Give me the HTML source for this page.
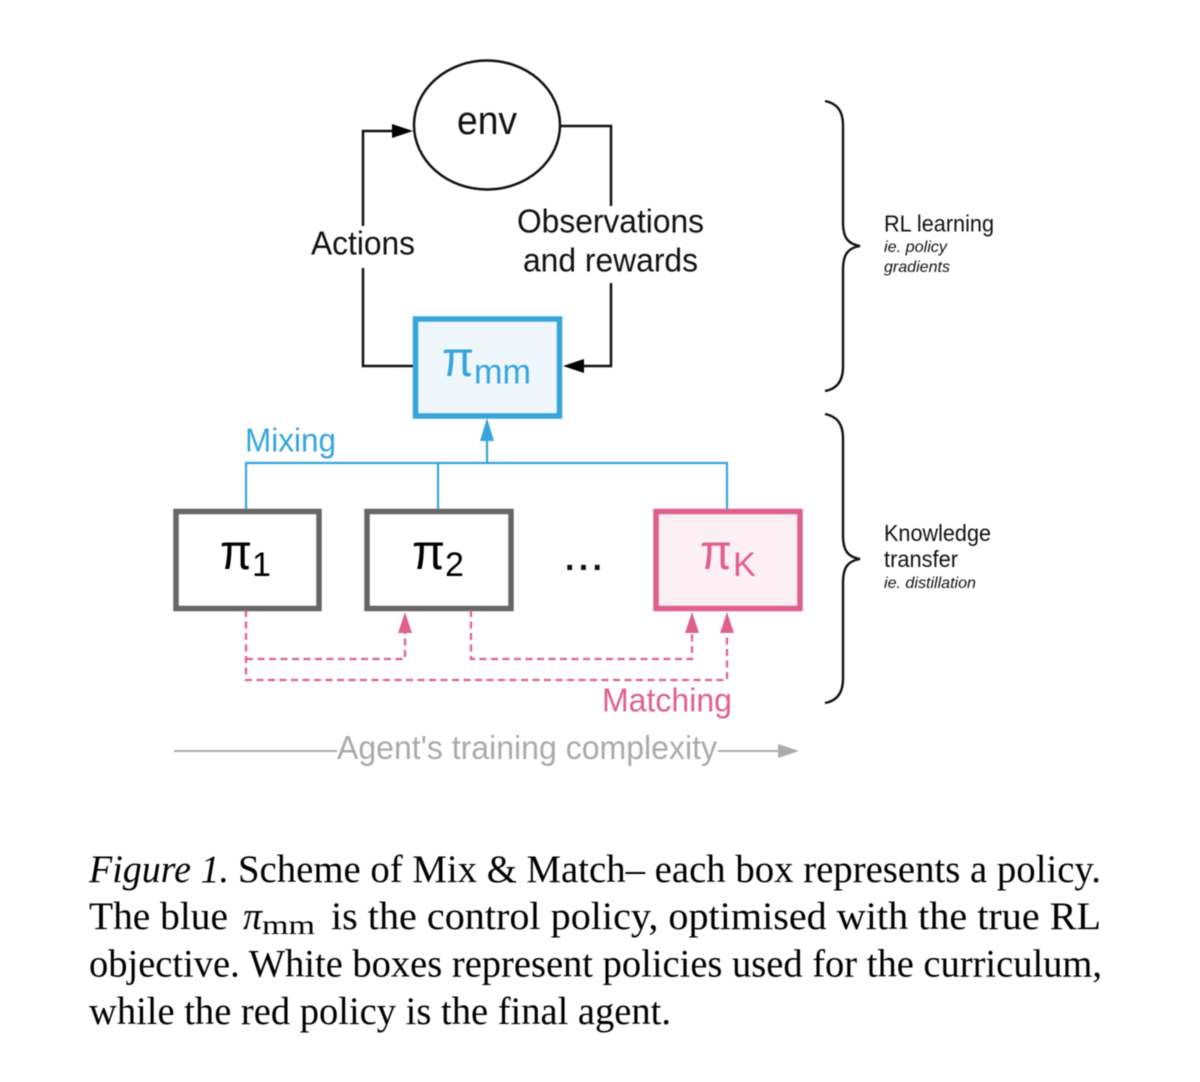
<!DOCTYPE html>
<html><head><meta charset="utf-8"><style>
html,body{margin:0;padding:0;background:#fff}
svg{display:block;filter:blur(0.4px)}
.s{font-family:"Liberation Sans",sans-serif}
.c{font-family:"Liberation Serif",serif;font-size:39.5px;fill:#000}
</style></head><body>
<svg width="1200" height="1082" viewBox="0 0 1200 1082" xmlns="http://www.w3.org/2000/svg">
<rect width="1200" height="1082" fill="#fff"/>
<g fill="none" stroke="#111" stroke-width="2.5">
<ellipse cx="487" cy="125" rx="73" ry="64.5"/>
<path d="M415 366H363V268M363 226V131H394"/>
<path d="M560 126H611V206M611 283V366H582"/>
</g>
<path d="M413 131L392 124V138Z M563 366L584 359V373Z" fill="#000"/>
<rect x="415.500" y="319" width="144" height="97" fill="#eff7fc" stroke="#36a5dc" stroke-width="5.500"/>
<g fill="none" stroke-width="5.500">
<rect x="176" y="511.500" width="143" height="97" fill="#fff" stroke="#666"/>
<rect x="367" y="511.500" width="144" height="97" fill="#fff" stroke="#666"/>
<rect x="656" y="511.500" width="144" height="97" fill="#fdf0f5" stroke="#e0608c"/>
</g>
<g fill="none" stroke="#36a5dc" stroke-width="2.200">
<path d="M246 509V463H727V509M438 463V509M487 463V438"/>
</g>
<path d="M487 418L480 441H494Z" fill="#36a5dc"/>
<g fill="none" stroke="#e0608c" stroke-width="2.300" stroke-dasharray="7 4.500">
<path d="M246 610V680H727V632"/>
<path d="M246 659H405V632"/>
<path d="M471 610V659H692V632"/>
</g>
<path d="M405 612L398 633H412Z M692 612L685 633H699Z M727 612L720 633H734Z" fill="#e0608c"/>
<path d="M174 751H337M718 751H780" stroke="#aaa" stroke-width="2" fill="none"/>
<path d="M799 751L778 744V758Z" fill="#aaa"/>
<g fill="none" stroke="#111" stroke-width="2.400">
<path d="M825 101C836 103 843 110 843 125V222C843 238 848 244 860 246C848 248 843 254 843 270V367C843 382 836 389 825 391"/>
<path d="M825 414C836 416 843 423 843 438V535C843 551 848 557 860 559C848 561 843 567 843 583V679C843 694 836 701 825 703"/>
</g>
<g class="s" fill="#111">
<text x="457" y="134" font-size="40" textLength="60" lengthAdjust="spacingAndGlyphs">env</text>
<text x="311" y="254.500" font-size="33" textLength="104" lengthAdjust="spacingAndGlyphs">Actions</text>
<text x="517" y="232.500" font-size="33" textLength="187" lengthAdjust="spacingAndGlyphs">Observations</text>
<text x="523" y="271.500" font-size="33" textLength="175" lengthAdjust="spacingAndGlyphs">and rewards</text>
<text x="884" y="231.500" font-size="23" textLength="110" lengthAdjust="spacingAndGlyphs">RL learning</text>
<text x="884" y="252" font-size="16" font-style="italic" textLength="63" lengthAdjust="spacingAndGlyphs">ie. policy</text>
<text x="884" y="272" font-size="16" font-style="italic" textLength="66" lengthAdjust="spacingAndGlyphs">gradients</text>
<text x="884" y="541" font-size="23" textLength="107" lengthAdjust="spacingAndGlyphs">Knowledge</text>
<text x="884" y="567" font-size="23" textLength="74" lengthAdjust="spacingAndGlyphs">transfer</text>
<text x="884" y="588" font-size="16" font-style="italic" textLength="92" lengthAdjust="spacingAndGlyphs">ie. distillation</text>
<text x="565" y="570" font-size="34" font-weight="bold" textLength="37" lengthAdjust="spacing">...</text>
</g>
<g class="s">
<text x="245" y="451.500" font-size="33" fill="#36a5dc" textLength="91" lengthAdjust="spacingAndGlyphs">Mixing</text>
<text x="602" y="711.500" font-size="33" fill="#e0608c" textLength="130" lengthAdjust="spacingAndGlyphs">Matching</text>
<text x="337" y="759" font-size="33" fill="#aaa" textLength="380" lengthAdjust="spacingAndGlyphs">Agent's training complexity</text>
<text x="442" y="376" font-size="50" fill="#36a5dc" textLength="32" lengthAdjust="spacingAndGlyphs">π</text>
<text x="474" y="383.500" font-size="35" fill="#36a5dc" textLength="57" lengthAdjust="spacingAndGlyphs">mm</text>
<text x="220" y="569" font-size="50" fill="#000" textLength="32" lengthAdjust="spacingAndGlyphs">π</text>
<text x="252" y="576" font-size="34" fill="#000">1</text>
<text x="412" y="569" font-size="50" fill="#000" textLength="33" lengthAdjust="spacingAndGlyphs">π</text>
<text x="445" y="576" font-size="34" fill="#000">2</text>
<text x="700" y="569" font-size="50" fill="#e0608c" textLength="32" lengthAdjust="spacingAndGlyphs">π</text>
<text x="733" y="576" font-size="34" fill="#e0608c" textLength="23" lengthAdjust="spacingAndGlyphs">K</text>
</g>
<text class="c" x="89" y="882" font-style="italic" textLength="140" lengthAdjust="spacingAndGlyphs">Figure 1.</text>
<text class="c" x="238" y="882" textLength="863" lengthAdjust="spacingAndGlyphs">Scheme of Mix &amp; Match– each box represents a policy.</text>
<text class="c" x="89" y="929" textLength="139" lengthAdjust="spacingAndGlyphs">The blue</text>
<text class="c" x="243" y="929" font-style="italic" textLength="19" lengthAdjust="spacingAndGlyphs">π</text>
<text class="c" x="262" y="934" textLength="53" lengthAdjust="spacingAndGlyphs" style="font-size:27px">mm</text>
<text class="c" x="331" y="929" textLength="770" lengthAdjust="spacingAndGlyphs">is the control policy, optimised with the true RL</text>
<text class="c" x="89" y="976.500" textLength="1013" lengthAdjust="spacingAndGlyphs">objective. White boxes represent policies used for the curriculum,</text>
<text class="c" x="89" y="1024" textLength="582" lengthAdjust="spacingAndGlyphs">while the red policy is the final agent.</text>
</svg>
</body></html>
